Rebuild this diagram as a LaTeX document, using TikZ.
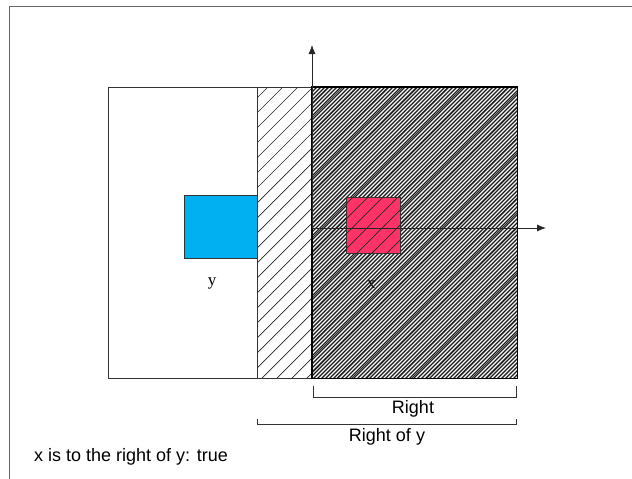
\documentclass[tikz,border=0pt]{standalone}
\usepackage{fontspec}
\setmainfont{Liberation Serif}
\setsansfont{Liberation Sans}
\usetikzlibrary{arrows.meta}
\tikzset{
  sparseline/.style={draw=black!85,line width=0.7pt},
  denseline/.style={draw=black!90,line width=1.1pt},
  axis/.style={draw=black!85,line width=0.8pt,-{Latex[length=9pt,width=7pt]}},
  bracket/.style={draw=black!80,line width=0.7pt},
  lab/.style={font=\sffamily\fontsize{18}{20}\selectfont,inner sep=0pt},
  var/.style={font=\fontsize{17}{19}\selectfont,inner sep=0pt},
  box/.style={draw=black!80,line width=0.6pt,inner sep=0pt},
}
\begin{document}
\begin{tikzpicture}[x=1pt,y=-1pt]
\useasboundingbox[fill=white] (0,0) rectangle (632,479);
% frame
\draw[draw=black!60,line width=0.8pt] (9,479) -- (9,6) -- (632,6);
% regions
\node[box,fill=white,minimum width=149pt,minimum height=291pt,anchor=north west] (left) at (108,87) {};
\node[box,fill=white,minimum width=260pt,minimum height=291pt,anchor=north west] (righty) at (257,87) {};
\node[var] (xlab) at (371,285) {x};
\node[inner sep=0pt,minimum width=205pt,minimum height=291pt,anchor=north west] (right) at (312,87) {};
% dense hatch
\begin{scope}
  \clip (right.north west) rectangle (right.south east);
  \foreach \i in {16,20,...,520} \draw[denseline] (\i,380) -- ++(295,-295);
\end{scope}
% boxes
\node[box,fill={rgb,255:red,0;green,176;blue,240},minimum width=73pt,minimum height=63pt,anchor=north west] (ybox) at (184,195) {};
\node[box,fill={rgb,255:red,255;green,51;blue,102},minimum width=54pt,minimum height=56pt,anchor=north west] (xbox) at (346,197) {};
% sparse hatch overlay
\begin{scope}
  \clip (righty.north west) rectangle (righty.south east);
  \foreach \i in {-40,-25,...,520} \draw[sparseline] (\i,380) -- ++(295,-295);
\end{scope}
\draw[black!80,line width=0.6pt] (righty.north west) rectangle (righty.south east);
\draw[draw=black,line width=1.8pt] (right.north west) rectangle (right.south east);
% axes
\coordinate (o) at (312,228);
\coordinate (ytip) at (312,45);
\coordinate (xtip) at (546,228);
\draw[axis] (o) -- (ytip);
\draw[axis] (o) -- (xtip);
% labels
\node[var] (ylab) at (212,283) {y};
% brackets
\coordinate (r1) at (313,386); \coordinate (r2) at (313,397);
\coordinate (r3) at (516,397); \coordinate (r4) at (516,386);
\draw[bracket] (r1) -- (r2) -- (r3) -- (r4);
\node[lab] (rlab) at (413,409) {Right};
\coordinate (s1) at (257,419); \coordinate (s2) at (257,424);
\coordinate (s3) at (516,424); \coordinate (s4) at (516,419);
\draw[bracket] (s1) -- (s2) -- (s3) -- (s4);
\node[lab] (slab) at (387,437) {Right of y};
\node[lab,anchor=west] (res) at (34,457) {x is to the right of y: true};
\end{tikzpicture}
\end{document}
